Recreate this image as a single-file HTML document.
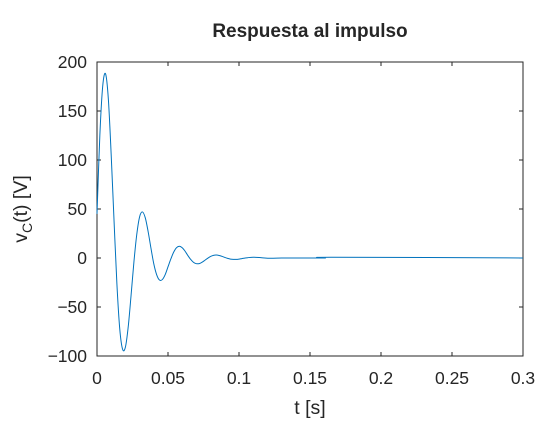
<!DOCTYPE html>
<html><head><meta charset="utf-8"><style>
body{margin:0;background:#fff}
svg text{font-family:"Liberation Sans",sans-serif;fill:#262626}
</style></head><body>
<svg width="560" height="420" viewBox="0 0 560 420">
<rect width="560" height="420" fill="#fff"/>
<g id="axes"></g>
<path id="line" fill="none" stroke="#0072bd" stroke-width="1"/>
<text x="310" y="37" text-anchor="middle" font-size="19" font-weight="bold">Respuesta al impulso</text>
<text x="310" y="414" text-anchor="middle" font-size="19.5">t [s]</text>
<text transform="translate(27,209) rotate(-90)" text-anchor="middle" font-size="19.5">v<tspan font-size="14" dy="5">C</tspan><tspan dy="-5">(t) [V]</tspan></text>
</svg>
<script>
const xTicks=[0,0.05,0.1,0.15,0.2,0.25,0.3];
const xTickLabels=["0","0.05","0.1","0.15","0.2","0.25","0.3"];
const yTicks=[-100,-50,0,50,100,150,200];
const yTickLabels=["\u2212100","\u221250","0","50","100","150","200"];
const tVals=[0,0.002,0.004,0.006,0.008,0.010,0.012,0.014,0.016,0.018,0.020,0.022,0.024,0.026,0.028,0.030,0.032,0.034,0.036,0.038,0.040,0.042,0.044,0.046,0.048,0.050,0.052,0.054,0.056,0.058,0.060,0.062,0.064,0.066,0.068,0.070,0.072,0.074,0.076,0.078,0.080,0.082,0.084,0.086,0.088,0.090,0.092,0.094,0.096,0.098,0.100,0.102,0.104,0.106,0.110,0.116,0.122,0.130,0.160,0.165,0.300];
const vVals=[45,125,175,188,162,105,38,-26,-72,-93,-91,-70,-38,-4,24,42,47,41,27,10,-6,-17,-22.5,-22,-17,-9,-1,6,10.5,12,10.5,7,2.5,-1.5,-4.5,-5.8,-5.7,-4.3,-2.3,-0.2,1.6,2.7,3,2.6,1.7,0.6,-0.4,-1.1,-1.4,-1.4,-1.1,-0.6,-0.1,0.3,0.8,0.3,-0.3,0,0,0.8,0];
const X0=97,X1=523,Y0=356,Y1=62;
const sx=t=>X0+(t-0)/(0.3)*(X1-X0);
const sy=v=>Y0-(v+100)/300*(Y0-Y1);
const NS="http://www.w3.org/2000/svg";
const g=document.getElementById('axes');
function mk(tag,attrs){const e=document.createElementNS(NS,tag);for(const k in attrs)e.setAttribute(k,attrs[k]);g.appendChild(e);return e;}
const box=mk('rect',{x:X0,y:Y1,width:X1-X0,height:Y0-Y1,fill:'none',stroke:'#262626','stroke-width':1});


xTicks.forEach((t,i)=>{const x=sx(t);
 mk('line',{x1:x,x2:x,y1:Y0,y2:Y0-4,stroke:'#262626'});
 mk('line',{x1:x,x2:x,y1:Y1,y2:Y1+4,stroke:'#262626'});
 const tx=mk('text',{x:x,y:384,'text-anchor':'middle','font-size':'17.5'});tx.textContent=xTickLabels[i];
 
 
});
yTicks.forEach((v,i)=>{const y=sy(v);
 mk('line',{x1:X0,x2:X0+4,y1:y,y2:y,stroke:'#262626'});
 mk('line',{x1:X1,x2:X1-4,y1:y,y2:y,stroke:'#262626'});
 const tx=mk('text',{x:87,y:y+6,'text-anchor':'end','font-size':'17.5'});tx.textContent=yTickLabels[i];
 
 
});
const P=tVals.map((t,i)=>[sx(t),sy(vVals[i])]);
let d=`M${P[0][0]},${P[0][1]}`;
for(let i=0;i<P.length-1;i++){const p0=P[Math.max(0,i-1)],p1=P[i],p2=P[i+1],p3=P[Math.min(P.length-1,i+2)];
 const c1=[p1[0]+(p2[0]-p0[0])/6,p1[1]+(p2[1]-p0[1])/6],c2=[p2[0]-(p3[0]-p1[0])/6,p2[1]-(p3[1]-p1[1])/6];
 d+=` C${c1[0]},${c1[1]} ${c2[0]},${c2[1]} ${p2[0]},${p2[1]}`;}
document.getElementById('line').setAttribute('d',d);
</script>
</body></html>
